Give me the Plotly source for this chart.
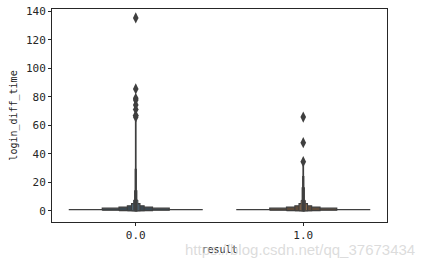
import plotly.graph_objects as go

categories = [0.0, 1.0]
tick_labels = ["0.0", "1.0"]

# letter-value boxes (inner/widest first -> outer/narrowest)
lower_0 = [0.8, 0.4, 0.1, 0.0, 0.0, 0.0, 0.0, 0.0, 0.0]
upper_0 = [1.2, 1.8, 2.5, 3.5, 5.0, 7.5, 14.0, 29.0, 63.0]
lower_1 = [0.8, 0.4, 0.1, 0.0, 0.0, 0.0, 0.0, 0.0, 0.0]
upper_1 = [1.2, 1.8, 2.5, 3.5, 5.0, 7.3, 16.0, 24.0, 33.0]

outliers_0 = [65.8, 67.0, 71.2, 74.3, 77.8, 79.0, 85.6, 135.4]
outliers_1 = [34.5, 47.8, 65.8]

y_ticks = [0, 20, 40, 60, 80, 100, 120, 140]

base_colors = [(50, 116, 161), (225, 129, 44)]
edge = "#3f3f3f"
font_mono = "DejaVu Sans Mono"

fig = go.Figure()

def mix(c, t):
    # t=0 -> dark version, t=1 -> light version
    dark = [v * 0.2 + 62 * 0.8 for v in c]
    light = [v * 0.7 + 255 * 0.3 for v in c]
    return "rgb(%d,%d,%d)" % tuple(int(d + (l - d) * t) for d, l in zip(dark, light))

for ci, (cat, lows, ups, outs) in enumerate([
        (categories[0], lower_0, upper_0, outliers_0),
        (categories[1], lower_1, upper_1, outliers_1)]):
    for i, (lo, hi) in enumerate(zip(lows, ups)):
        w = 0.8 * 0.5 ** i
        t = 0.0 if i < 4 else (1.0 if i == 5 else 0.4)
        fig.add_trace(go.Scatter(
            x=[cat - w / 2, cat + w / 2, cat + w / 2, cat - w / 2, cat - w / 2],
            y=[lo, lo, hi, hi, lo],
            mode="lines", fill="toself",
            fillcolor=mix(base_colors[ci], t),
            line=dict(color=edge, width=1.0 if i == 5 else 1.2),
            hoverinfo="skip", showlegend=False))
    fig.add_trace(go.Scatter(
        x=[cat] * len(outs), y=outs, mode="markers",
        marker=dict(symbol="diamond-tall", size=8, color=edge,
                    line=dict(width=0)),
        showlegend=False))

axis_common = dict(showline=True, linecolor="#262626", linewidth=1, mirror=True,
                   ticks="outside", ticklen=3, tickcolor="#262626",
                   showgrid=False, zeroline=False,
                   tickfont=dict(family=font_mono, size=11, color="#262626"))

fig.update_layout(
    width=427, height=265,
    margin=dict(l=52, r=40, t=5, b=43),
    paper_bgcolor="white", plot_bgcolor="white",
    xaxis=dict(range=[-0.5, 1.5], tickvals=categories, ticktext=tick_labels,
               title=dict(text="result", standoff=4,
                          font=dict(family=font_mono, size=10, color="#262626")),
               **axis_common),
    yaxis=dict(range=[-7.9, 141.7], tickvals=y_ticks,
               title=dict(text="login_diff_time", standoff=6,
                          font=dict(family=font_mono, size=10, color="#262626")),
               **axis_common),
    annotations=[dict(text="https://blog.csdn.net/qq_37673434",
                      xref="paper", yref="paper", x=1.09, y=-0.13,
                      xanchor="right", yanchor="middle", showarrow=False,
                      font=dict(family="Liberation Sans", size=15,
                                color="rgba(205,205,205,0.7)"))],
)

fig.write_html("out.html")
